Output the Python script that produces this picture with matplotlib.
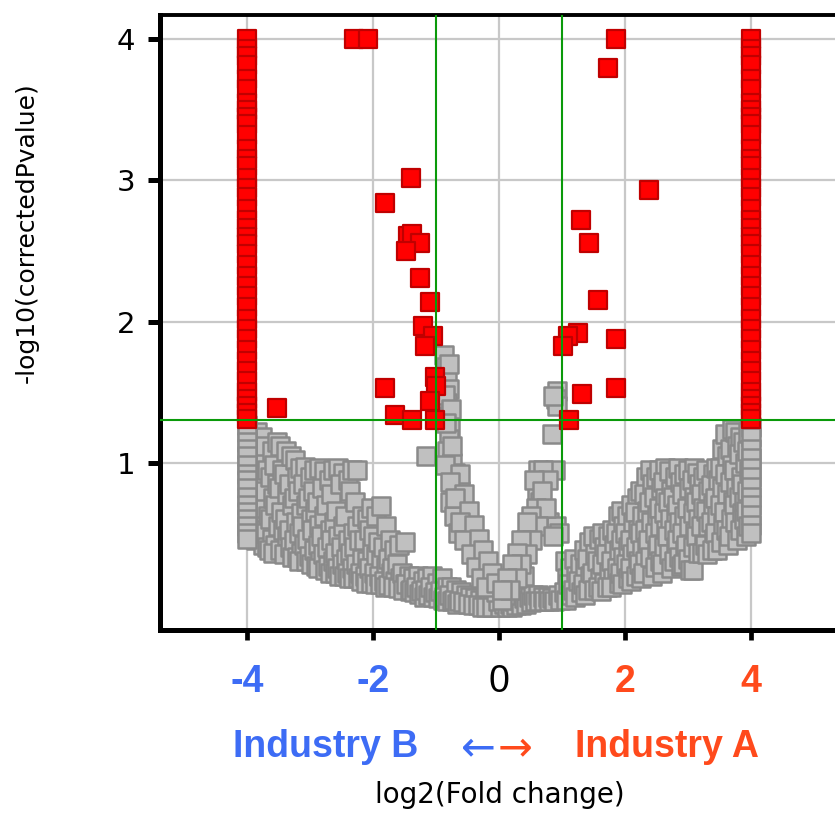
import matplotlib
matplotlib.use("Agg")
import matplotlib.pyplot as plt

W, H = 835, 813

# ---------------- data ----------------
col_y_red = [4.0, 3.93, 3.88, 3.82, 3.72, 3.65, 3.55, 3.50, 3.45, 3.40, 3.32, 3.22,
             3.15, 3.10, 3.02, 2.95, 2.88, 2.80, 2.72, 2.66, 2.60, 2.55, 2.48, 2.40,
             2.32, 2.25, 2.18, 2.10, 2.02, 1.95, 1.88, 1.80, 1.72, 1.65, 1.58, 1.50,
             1.45, 1.40, 1.35, 1.31]
col_y_gray_left = [1.27, 1.22, 1.15, 1.10, 1.05, 0.98, 0.92, 0.88, 0.82, 0.76, 0.70,
                   0.65, 0.60, 0.55, 0.50, 0.46]
col_y_gray_right = [1.25, 1.18, 1.10, 1.03, 0.96, 0.90, 0.83, 0.76, 0.70, 0.63, 0.56, 0.50]

red_x = [-2.30, -2.08, -1.40, -1.81, -1.45, -1.38, -1.25, -1.48, -1.25, -1.10, -1.21,
         -1.05, -1.17, -1.02, -1.00, -1.81, -1.65, -1.38, -1.10, -1.02, -3.52,
         1.86, 1.73, 2.38, 1.30, 1.43, 1.57, 1.86, 1.25, 1.10, 1.02, 1.86, 1.32, 1.11]
red_y = [4.00, 4.00, 3.02, 2.84, 2.61, 2.62, 2.56, 2.50, 2.31, 2.14, 1.97,
         1.90, 1.83, 1.61, 1.54, 1.53, 1.34, 1.30, 1.44, 1.30, 1.39,
         4.00, 3.80, 2.93, 2.72, 2.56, 2.15, 1.88, 1.92, 1.90, 1.83, 1.53, 1.49, 1.30]

# gray (non-significant) points, read row by row: (x values, y values)
gray_rows = [
    ([-3.92, -3.90, -3.94, -3.91, -3.93], [1.18, 0.95, 0.78, 0.62, 0.50]),
    ([-3.84, -3.87, -3.83, -3.86, -3.82, -3.85], [1.22, 1.05, 0.88, 0.72, 0.58, 0.45]),
    ([-3.76, -3.79, -3.75, -3.80, -3.77, -3.74], [1.18, 1.00, 0.85, 0.68, 0.52, 0.42]),
    ([-3.71, -3.68, -3.72, -3.66, -3.70, -3.69], [1.12, 0.95, 0.80, 0.62, 0.50, 0.40]),
    ([-3.60, -3.64, -3.59, -3.63, -3.61, -3.65], [1.08, 0.90, 0.75, 0.60, 0.46, 0.38]),
    ([-3.53, -3.57, -3.52, -3.56, -3.51, -3.55, -3.58], [1.15, 0.98, 0.85, 0.70, 0.55, 0.42, 0.36]),
    ([-3.47, -3.44, -3.49, -3.46, -3.43, -3.48], [1.12, 0.95, 0.82, 0.65, 0.52, 0.38]),
    ([-3.38, -3.41, -3.36, -3.40, -3.37, -3.42], [1.08, 0.92, 0.78, 0.60, 0.48, 0.35]),
    ([-3.30, -3.34, -3.29, -3.33, -3.31, -3.28], [1.05, 0.85, 0.70, 0.52, 0.40, 0.33]),
    ([-3.24, -3.21, -3.26, -3.22, -3.25, -3.20], [1.02, 0.90, 0.75, 0.58, 0.45, 0.33]),
    ([-3.16, -3.19, -3.15, -3.18, -3.14, -3.17], [0.96, 0.80, 0.64, 0.50, 0.36, 0.30]),
    ([-3.08, -3.11, -3.07, -3.12, -3.09, -3.06], [0.97, 0.85, 0.70, 0.55, 0.42, 0.30]),
    ([-3.00, -3.03, -2.99, -3.04, -3.01, -2.98], [0.90, 0.75, 0.60, 0.46, 0.34, 0.28]),
    ([-2.93, -2.96, -2.92, -2.97, -2.94, -2.91], [0.95, 0.80, 0.66, 0.52, 0.38, 0.27]),
    ([-2.86, -2.89, -2.85, -2.88, -2.84, -2.87], [0.96, 0.72, 0.56, 0.42, 0.30, 0.25]),
    ([-2.78, -2.81, -2.77, -2.82, -2.79, -2.76], [0.94, 0.82, 0.62, 0.48, 0.35, 0.24]),
    ([-2.70, -2.74, -2.69, -2.73, -2.71, -2.68], [0.88, 0.70, 0.52, 0.40, 0.27, 0.22]),
    ([-2.63, -2.66, -2.62, -2.67, -2.64, -2.61], [0.95, 0.78, 0.58, 0.45, 0.30, 0.22]),
    ([-2.56, -2.59, -2.55, -2.60, -2.57, -2.54], [0.96, 0.66, 0.48, 0.36, 0.25, 0.20]),
    ([-2.48, -2.52, -2.47, -2.51, -2.49, -2.46], [0.93, 0.85, 0.55, 0.40, 0.28, 0.20]),
    ([-2.40, -2.44, -2.39, -2.43, -2.41, -2.38], [0.88, 0.62, 0.45, 0.32, 0.22, 0.18]),
    ([-2.33, -2.36, -2.32, -2.37, -2.34, -2.31], [0.95, 0.80, 0.50, 0.36, 0.25, 0.18]),
    ([-2.26, -2.29, -2.25, -2.30, -2.27, -2.24], [0.95, 0.72, 0.55, 0.40, 0.28, 0.18]),
    ([-2.18, -2.22, -2.17, -2.21, -2.19], [0.62, 0.45, 0.32, 0.22, 0.16]),
    ([-2.10, -2.14, -2.09, -2.13, -2.11], [0.60, 0.45, 0.30, 0.20, 0.15]),
    ([-2.03, -2.07, -2.02, -2.06, -2.04], [0.68, 0.52, 0.38, 0.25, 0.15]),
    ([-1.96, -2.00, -1.95, -1.99, -1.97], [0.62, 0.48, 0.34, 0.22, 0.14]),
    ([-1.88, -1.92, -1.87, -1.91, -1.89], [0.69, 0.44, 0.30, 0.20, 0.14]),
    ([-1.80, -1.84, -1.79, -1.83, -1.81], [0.55, 0.40, 0.26, 0.16, 0.12]),
    ([-1.73, -1.77, -1.72, -1.76], [0.45, 0.32, 0.22, 0.13]),
    ([-1.66, -1.70, -1.65, -1.69], [0.38, 0.25, 0.16, 0.12]),
    ([-1.58, -1.62, -1.57, -1.61], [0.42, 0.28, 0.18, 0.11]),
    ([-1.50, -1.54, -1.49, -1.53], [0.44, 0.22, 0.14, 0.10]),
    ([-1.43, -1.47, -1.42], [0.20, 0.14, 0.09]),
    ([-1.36, -1.40, -1.35], [0.18, 0.10, 0.08]),
    ([-1.28, -1.32, -1.27], [0.20, 0.12, 0.07]),
    ([-1.20, -1.24, -1.19], [0.16, 0.09, 0.05]),
    ([-1.16, -1.14, -1.18, -1.13], [1.05, 0.18, 0.10, 0.06]),
    ([-1.06, -1.10, -1.05], [0.20, 0.12, 0.05]),
    ([-0.98, -1.02, -0.97], [0.15, 0.08, 0.04]),
    ([-0.90, -0.94, -0.89], [0.18, 0.09, 0.03]),
    ([-0.83, -0.87, -0.82], [0.12, 0.05, 0.02]),
    ([-0.76, -0.80, -0.75], [0.12, 0.06, 0.02]),
    ([-0.68, -0.72, -0.67], [0.10, 0.03, 0.00]),
    ([-0.60, -0.64], [0.08, 0.02]),
    ([-0.53, -0.57], [0.06, 0.01]),
    ([-0.46, -0.50], [0.05, 0.00]),
    ([-0.38, -0.42], [0.04, -0.01]),
    ([-0.30, -0.34], [0.03, -0.01]),
    ([-0.23, -0.27], [0.02, -0.02]),
    ([-0.16, -0.20], [0.01, -0.02]),
    ([-0.08, -0.12], [0.00, -0.02]),
    ([0.01, -0.02], [-0.02, 0.02]),
    ([0.08, 0.12], [0.00, -0.02]),
    ([0.17, 0.20], [0.00, -0.02]),
    ([0.24, 0.27], [0.02, -0.01]),
    ([0.31, 0.34], [0.03, -0.01]),
    ([0.39, 0.42], [0.04, 0.00]),
    ([0.47, 0.50], [0.05, 0.01]),
    ([0.54, 0.57], [0.06, 0.02]),
    ([0.61, 0.64], [0.06, 0.02]),
    ([0.69, 0.72], [0.05, 0.02]),
    ([0.77, 0.80], [0.05, 0.02]),
    ([0.84, 0.87], [0.04, 0.02]),
    ([0.94, 0.97], [0.06, 0.03]),
    ([1.04, 1.07, 1.03, 1.06], [0.30, 0.18, 0.08, 0.03]),
    ([1.13, 1.10, 1.14], [0.25, 0.14, 0.06]),
    ([1.19, 1.22, 1.18, 1.21], [0.32, 0.20, 0.10, 0.05]),
    ([1.29, 1.26, 1.30], [0.28, 0.16, 0.08]),
    ([1.34, 1.37, 1.33, 1.36], [0.38, 0.25, 0.14, 0.06]),
    ([1.43, 1.40, 1.44, 1.41], [0.44, 0.32, 0.20, 0.10]),
    ([1.49, 1.52, 1.48, 1.51], [0.48, 0.35, 0.22, 0.10]),
    ([1.59, 1.56, 1.60, 1.57], [0.46, 0.30, 0.18, 0.12]),
    ([1.64, 1.67, 1.63, 1.66, 1.62], [0.50, 0.40, 0.28, 0.15, 0.09]),
    ([1.73, 1.70, 1.74, 1.71], [0.48, 0.35, 0.22, 0.12]),
    ([1.79, 1.82, 1.78, 1.81, 1.77], [0.52, 0.42, 0.30, 0.18, 0.12]),
    ([1.89, 1.86, 1.90, 1.87, 1.91], [0.62, 0.50, 0.38, 0.25, 0.15]),
    ([1.94, 1.97, 1.93, 1.96, 1.92, 1.95], [0.66, 0.55, 0.45, 0.33, 0.22, 0.14]),
    ([2.03, 2.00, 2.04, 2.01, 2.05], [0.62, 0.50, 0.40, 0.28, 0.18]),
    ([2.09, 2.12, 2.08, 2.11, 2.07, 2.10], [0.70, 0.58, 0.45, 0.35, 0.25, 0.16]),
    ([2.19, 2.16, 2.20, 2.17, 2.21, 2.18], [0.75, 0.65, 0.52, 0.40, 0.30, 0.20]),
    ([2.24, 2.27, 2.23, 2.26, 2.22, 2.25], [0.80, 0.62, 0.50, 0.38, 0.28, 0.18]),
    ([2.33, 2.30, 2.34, 2.31, 2.35, 2.32, 2.29], [0.90, 0.78, 0.66, 0.52, 0.40, 0.30, 0.22]),
    ([2.39, 2.42, 2.38, 2.41, 2.37, 2.40, 2.43], [0.95, 0.85, 0.72, 0.58, 0.45, 0.33, 0.20]),
    ([2.49, 2.46, 2.50, 2.47, 2.51, 2.48], [0.90, 0.76, 0.62, 0.50, 0.38, 0.26]),
    ([2.54, 2.57, 2.53, 2.56, 2.52, 2.55, 2.58], [0.95, 0.82, 0.68, 0.55, 0.42, 0.30, 0.22]),
    ([2.63, 2.60, 2.64, 2.61, 2.65, 2.62, 2.59], [0.96, 0.86, 0.75, 0.64, 0.52, 0.40, 0.28]),
    ([2.69, 2.72, 2.68, 2.71, 2.67, 2.70, 2.73], [0.94, 0.80, 0.72, 0.60, 0.48, 0.35, 0.25]),
    ([2.79, 2.76, 2.80, 2.77, 2.81, 2.78], [0.90, 0.76, 0.64, 0.52, 0.40, 0.30]),
    ([2.84, 2.87, 2.83, 2.86, 2.82, 2.85, 2.88], [0.96, 0.86, 0.70, 0.58, 0.45, 0.33, 0.27]),
    ([2.93, 2.90, 2.94, 2.91, 2.95, 2.92], [0.92, 0.78, 0.62, 0.50, 0.38, 0.28]),
    ([2.99, 3.02, 2.98, 3.01, 2.97, 3.00, 3.03], [0.95, 0.82, 0.68, 0.55, 0.42, 0.32, 0.24]),
    ([3.09, 3.06, 3.10, 3.07, 3.11, 3.08, 3.08], [0.96, 0.88, 0.76, 0.64, 0.50, 0.40, 0.24]),
    ([3.14, 3.17, 3.13, 3.16, 3.12, 3.15], [0.93, 0.85, 0.72, 0.60, 0.48, 0.36]),
    ([3.23, 3.20, 3.24, 3.21, 3.25, 3.22], [0.90, 0.78, 0.68, 0.55, 0.42, 0.36]),
    ([3.29, 3.32, 3.28, 3.31, 3.27, 3.30], [0.95, 0.80, 0.66, 0.55, 0.42, 0.35]),
    ([3.39, 3.36, 3.40, 3.37, 3.41, 3.38], [0.92, 0.84, 0.70, 0.58, 0.46, 0.38]),
    ([3.44, 3.47, 3.43, 3.46, 3.42, 3.45], [0.96, 0.88, 0.75, 0.62, 0.50, 0.38]),
    ([3.53, 3.50, 3.54, 3.51, 3.55, 3.52], [1.10, 0.96, 0.82, 0.70, 0.56, 0.44]),
    ([3.59, 3.62, 3.58, 3.61, 3.57, 3.60, 3.63], [1.20, 1.05, 0.92, 0.78, 0.65, 0.52, 0.42]),
    ([3.69, 3.66, 3.70, 3.67, 3.71, 3.68, 3.65], [1.24, 1.10, 0.98, 0.86, 0.72, 0.60, 0.48]),
    ([3.74, 3.77, 3.73, 3.76, 3.72, 3.75, 3.78], [1.22, 1.12, 0.95, 0.82, 0.70, 0.58, 0.45]),
    ([3.83, 3.80, 3.84, 3.81, 3.85, 3.82], [1.18, 1.06, 0.90, 0.76, 0.64, 0.52]),
    ([3.87, 3.90, 3.86, 3.89, 3.88, 3.91], [1.15, 1.00, 0.85, 0.72, 0.60, 0.48]),
    ([3.95, 3.93, 3.96, 3.94, 3.92, 3.95], [1.22, 1.08, 0.94, 0.80, 0.66, 0.55]),
]
# the two narrow arms near the fold-change thresholds
arm_x = [-0.88, -0.85, -0.82, -0.80, -0.82, -0.80, -0.78, -0.80, -0.82, -0.75, -0.70,
         -0.68, -0.62, -0.58, -0.55, -0.50, -0.45, -0.40, -0.35, -0.28, -0.22, -0.15,
         -0.10, -0.05, -0.78, -0.72, -0.65,
         -0.80, -0.86, -0.76, -0.84, -0.74, -0.86, -0.62, -0.78, -0.55, -0.70, -0.48,
         -0.62, -0.40, -0.55, -0.32, -0.45, -0.25, -0.36, -0.18, -0.28, -0.12, -0.20,
         -0.05,
         0.92, 0.90, 0.84, 0.62, 0.88, 0.60, 0.65, 0.70, 0.80, 0.90, 0.55, 0.48,
         0.42, 0.38, 0.35, 0.30, 0.25, 0.20, 0.15, 0.10, 0.05, 0.40,
         0.92, 0.85, 0.70, 0.78, 0.55, 0.68, 0.58, 0.75, 0.50, 0.62, 0.45, 0.52,
         0.35, 0.45, 0.28, 0.35, 0.20, 0.28, 0.12, 0.18, 0.05, 0.95, 0.85]
arm_y = [1.76, 1.68, 1.60, 1.52, 1.42, 1.33, 1.25, 1.17, 1.08, 1.00, 0.93,
         0.85, 0.80, 0.70, 0.62, 0.55, 0.48, 0.42, 0.36, 0.30, 0.24, 0.18,
         0.12, 0.08, 0.72, 0.62, 0.50,
         1.70, 1.48, 1.38, 1.28, 1.12, 0.98, 0.92, 0.86, 0.78, 0.75, 0.66,
         0.58, 0.56, 0.45, 0.46, 0.35, 0.38, 0.26, 0.30, 0.18, 0.22, 0.12,
         0.15,
         1.51, 1.45, 1.20, 0.95, 0.95, 0.78, 0.72, 0.62, 0.58, 0.55, 0.60, 0.52,
         0.45, 0.38, 0.32, 0.26, 0.20, 0.15, 0.10, 0.06, 0.03, 0.20,
         1.40, 1.47, 0.95, 0.88, 0.88, 0.80, 0.68, 0.68, 0.62, 0.55, 0.58, 0.45,
         0.45, 0.35, 0.36, 0.28, 0.28, 0.18, 0.18, 0.10, 0.10, 0.50, 0.48]

xticks = [-4, -2, 0, 2, 4]
xtick_labels = ["-4", "-2", "0", "2", "4"]
yticks = [1, 2, 3, 4]
fc_thresh = [-1, 1]
p_thresh = 1.301

BLUE = "#3d6cf5"
ORANGE = "#ff4a1c"

# ---------------- figure ----------------
fig = plt.figure(figsize=(W / 100, H / 100), dpi=100)
ax = fig.add_axes([160 / W, 1 - 630 / H, 1 - 160 / W, (630 - 15) / H])
ax.set_xlim(-5.38, 5.33)
ax.set_ylim(-0.186, 4.173)

ax.grid(True, color="#c8c8c8", linewidth=1.6, zorder=0)
ax.set_axisbelow(True)

gx, gy = [], []
for xs, ys in gray_rows:
    gx.extend(xs)
    gy.extend(ys)
gx += arm_x
gy += arm_y
gx += [-4.0] * len(col_y_gray_left) + [4.0] * len(col_y_gray_right)
gy += col_y_gray_left + col_y_gray_right

ms = 160
ax.scatter(gx, gy, s=ms, marker="s", facecolor="#c0c0c0", edgecolor="#8a8a8a",
           linewidth=1.8, zorder=2)
rx = [-4.0] * len(col_y_red) + [4.0] * len(col_y_red) + red_x
ry = col_y_red + col_y_red + red_y
ax.scatter(rx, ry, s=ms, marker="s", facecolor="#ff0000", edgecolor="#c00000",
           linewidth=1.6, zorder=3)

for v in fc_thresh:
    ax.axvline(v, color="#0a9a0a", linewidth=1.5, zorder=4)
ax.axhline(p_thresh, color="#0a9a0a", linewidth=1.5, zorder=4)

for s in ["left", "bottom"]:
    ax.spines[s].set_linewidth(3.6)
ax.spines["top"].set_linewidth(2.8)
ax.spines["right"].set_visible(False)

ax.set_yticks(yticks)
ax.set_yticklabels([str(v) for v in yticks], fontsize=21, family="DejaVu Sans")
ax.tick_params(axis="y", length=9, width=3.6, pad=9)

ax.set_xticks(xticks)
ax.set_xticklabels(xtick_labels, fontsize=27, family="Liberation Sans")
ax.tick_params(axis="x", length=7.5, width=3.4, pad=17)
for lab, v in zip(ax.get_xticklabels(), xticks):
    if v < 0:
        lab.set_color(BLUE)
        lab.set_fontweight("bold")
    elif v > 0:
        lab.set_color(ORANGE)
        lab.set_fontweight("bold")
    else:
        lab.set_color("black")

def ftext(px, py, s, **kw):
    fig.text(px / W, 1 - py / H, s, **kw)

ftext(326, 757, "Industry B", color=BLUE, fontsize=27, fontweight="bold",
      family="Liberation Sans", ha="center", va="baseline")
ftext(667, 757, "Industry A", color=ORANGE, fontsize=27, fontweight="bold",
      family="Liberation Sans", ha="center", va="baseline")
ftext(478, 748, "\u2190", color=BLUE, fontsize=30, family="DejaVu Sans",
      ha="center", va="center")
ftext(515, 748, "\u2192", color=ORANGE, fontsize=30, family="DejaVu Sans",
      ha="center", va="center")
ftext(500, 803, "log2(Fold change)", fontsize=20, family="DejaVu Sans",
      ha="center", va="baseline")
ftext(27, 233, "-log10(correctedPvalue)", fontsize=18, family="DejaVu Sans",
      ha="center", va="center", rotation=90)

fig.savefig("out.png", dpi=100)
